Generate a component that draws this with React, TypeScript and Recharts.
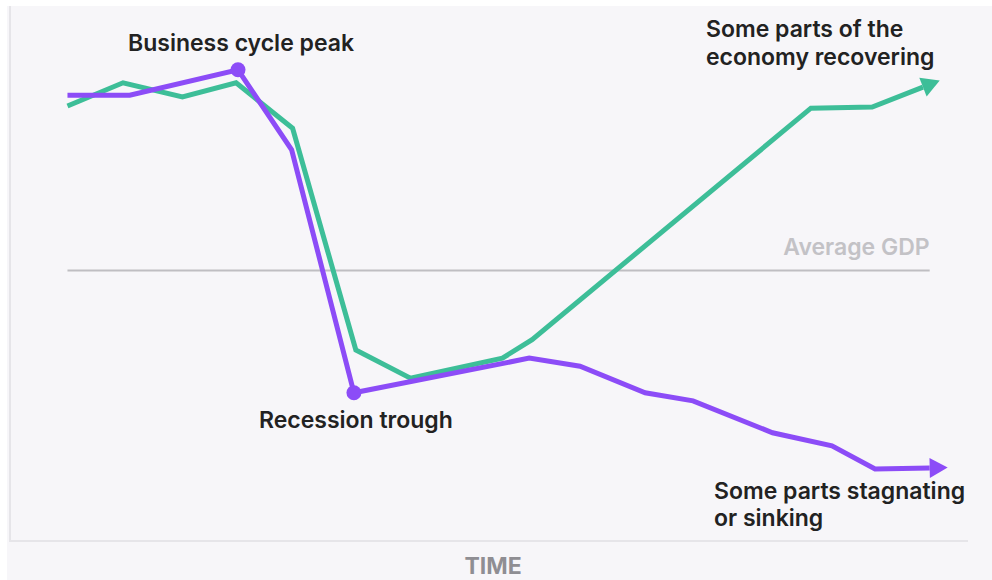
import { LineChart, Line, XAxis, YAxis, ReferenceLine } from 'recharts'

// time runs 0..100 across the frame, GDP index 0..100 bottom to top
const recoveringTime = [6, 11.8, 18, 23.6, 29.5, 36.1, 41.8, 51.4, 54.5, 83.6, 90, 95.3]
const recoveringGdp = [80.4, 84.7, 82.1, 84.7, 76.3, 35.3, 30.1, 33.8, 37.2, 80, 80.2, 83.9]

const sinkingTime = [6, 12.5, 23.8, 29.4, 35.9, 54.2, 59.5, 66.3, 71.3, 79.6, 85.8, 90.3, 96]
const sinkingGdp = [82.4, 82.4, 87.1, 72.3, 27.4, 33.8, 32.3, 27.4, 25.9, 20, 17.6, 13.3, 13.5]

const averageGdp = 50
const averageSpan = [6, 96]

// indices on the sinking line that get a big dot
const peakIndex = 2
const troughIndex = 4

const GREEN = '#3dbe98'
const PURPLE = '#8c4cf7'
const FONT = 'Inter, "Noto Sans", sans-serif'

const recovering = recoveringTime.map((t, i) => ({ t, gdp: recoveringGdp[i] }))
const sinking = sinkingTime.map((t, i) => ({ t, gdp: sinkingGdp[i] }))

function makeDot(color: string, marked: number[], count: number) {
  const seen: Record<number, { x: number; y: number }> = {}
  return (props: any) => {
    const { cx, cy, index, points } = props
    seen[index] = { x: cx, y: cy }
    if (marked.includes(index)) {
      return <circle key={`d${index}`} cx={cx} cy={cy} r={7.5} fill={color} />
    }
    if (index === count - 1) {
      const prev = points?.[index - 1] ?? seen[index - 1]
      if (!prev) return <g key={`d${index}`} />
      const dx = cx - prev.x
      const dy = cy - prev.y
      const len = Math.hypot(dx, dy) || 1
      const ux = dx / len
      const uy = dy / len
      const L = 18
      const W = 10
      const pts = [
        [cx + ux * L, cy + uy * L],
        [cx - uy * W, cy + ux * W],
        [cx + uy * W, cy - ux * W],
      ]
      return <polygon key={`d${index}`} points={pts.map((p) => p.join(',')).join(' ')} fill={color} />
    }
    return <g key={`d${index}`} />
  }
}

const noteStyle: React.CSSProperties = {
  position: 'absolute',
  fontFamily: FONT,
  fontWeight: 600,
  fontSize: 23,
  lineHeight: '28px',
  color: '#222222',
  whiteSpace: 'nowrap',
}

export default function App() {
  return (
    <div style={{ position: 'absolute', left: 0, top: 0, width: 992, height: 580, background: '#ffffff', overflow: 'hidden' }}>
      <div style={{ position: 'absolute', left: 7, top: 6, width: 985, height: 574, background: '#f7f6f9' }} />
      <div style={{ position: 'absolute', left: 9, top: 6, width: 2, height: 536, background: '#e6e5e9' }} />
      <div style={{ position: 'absolute', left: 0, top: 0 }}>
        <LineChart width={992} height={580} margin={{ top: 0, right: 24, bottom: 0, left: 10 }}>
          <XAxis
            dataKey="t"
            type="number"
            domain={[0, 100]}
            height={39}
            tick={false}
            tickLine={false}
            axisLine={{ stroke: '#e6e5e9', strokeWidth: 2 }}
            label={(p: any) => {
              const vb = p.viewBox
              return (
                <text
                  x={vb.x + vb.width / 2 + 4}
                  y={vb.y + 33}
                  textAnchor="middle"
                  fill="#8f8e93"
                  fontFamily={FONT}
                  fontWeight={700}
                  fontSize={23}
                >
                  TIME
                </text>
              )
            }}
          />
          <YAxis type="number" domain={[0, 100]} hide />
          <ReferenceLine
            segment={[
              { x: averageSpan[0], y: averageGdp },
              { x: averageSpan[1], y: averageGdp },
            ]}
            stroke="#bfbec2"
            strokeWidth={2}
            label={(p: any) => {
              const vb = p.viewBox
              return (
                <text
                  x={vb.x + vb.width}
                  y={vb.y - 16}
                  textAnchor="end"
                  fill="#c3c2c6"
                  fontFamily={FONT}
                  fontWeight={600}
                  fontSize={23}
                >
                  Average GDP
                </text>
              )
            }}
          />
          <Line
            data={recovering}
            dataKey="gdp"
            type="linear"
            stroke={GREEN}
            strokeWidth={5}
            dot={makeDot(GREEN, [], recovering.length)}
            activeDot={false}
            isAnimationActive={false}
          />
          <Line
            data={sinking}
            dataKey="gdp"
            type="linear"
            stroke={PURPLE}
            strokeWidth={5}
            dot={makeDot(PURPLE, [peakIndex, troughIndex], sinking.length)}
            activeDot={false}
            isAnimationActive={false}
          />
        </LineChart>
      </div>
      <div style={{ ...noteStyle, left: 128, top: 29 }}>Business cycle peak</div>
      <div style={{ ...noteStyle, left: 706, top: 15 }}>
        Some parts of the
        <br />
        economy recovering
      </div>
      <div style={{ ...noteStyle, left: 259, top: 406 }}>Recession trough</div>
      <div style={{ ...noteStyle, left: 714, top: 478, lineHeight: '27px' }}>
        Some parts stagnating
        <br />
        or sinking
      </div>
    </div>
  )
}
